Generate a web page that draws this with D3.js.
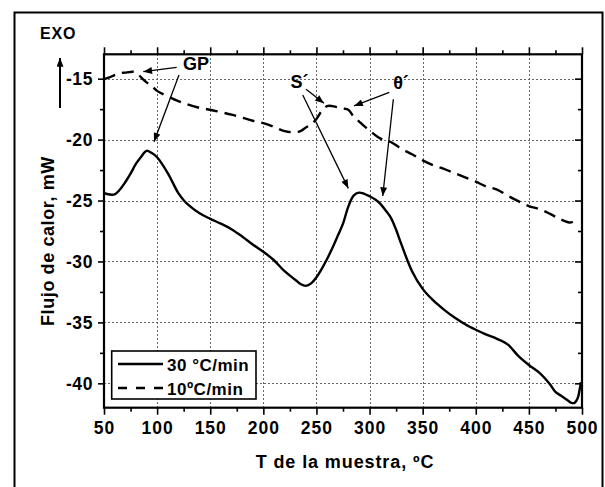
<!DOCTYPE html>
<html><head><meta charset="utf-8">
<script src="https://cdn.jsdelivr.net/npm/d3@7"></script>
<style>
html,body{margin:0;padding:0;background:#fff;}
text{font-family:"Liberation Sans",Arial,sans-serif;font-weight:bold;fill:#000;}
</style></head>
<body>
<script>
// ---- data ----
const tempSolid = [50,55,60,65,70,75,80,85,90,95,100,110,120,125,130,140,150,160,170,180,190,200,210,220,230,235,240,245,250,255,260,265,270,275,280,285,290,295,300,305,310,315,320,325,330,340,350,360,370,380,390,400,410,420,430,440,450,460,470,475,480,485,490,493,496,498,499];
const flowSolid = [-24.4,-24.5,-24.5,-24.1,-23.5,-22.8,-22.0,-21.4,-20.92,-21.1,-21.45,-22.75,-24.4,-24.97,-25.4,-26.05,-26.5,-26.9,-27.35,-27.95,-28.6,-29.2,-29.9,-30.8,-31.5,-31.85,-32.0,-31.8,-31.3,-30.6,-29.8,-28.9,-27.9,-26.9,-25.5,-24.6,-24.35,-24.45,-24.65,-24.9,-25.25,-25.8,-26.4,-27.4,-28.6,-30.8,-32.25,-33.2,-33.95,-34.6,-35.15,-35.6,-36.0,-36.35,-36.8,-37.75,-38.5,-39.15,-40.1,-40.7,-41.0,-41.3,-41.6,-41.6,-41.2,-40.4,-39.9];
const tempDash = [50,55,60,65,70,75,80,85,90,95,100,110,120,130,140,150,160,170,180,190,200,210,220,230,235,240,245,250,255,260,265,270,275,280,285,290,295,300,310,320,330,340,350,360,370,380,390,400,410,420,430,440,450,460,470,480,488,492,495];
const flowDash = [-15.05,-14.9,-14.7,-14.55,-14.5,-14.45,-14.45,-14.9,-15.3,-15.6,-16.0,-16.45,-16.85,-17.15,-17.4,-17.55,-17.75,-17.95,-18.2,-18.45,-18.65,-18.95,-19.3,-19.4,-19.3,-19.0,-18.75,-18.3,-17.65,-17.25,-17.25,-17.35,-17.45,-17.55,-18.1,-18.5,-18.9,-19.25,-19.9,-20.2,-20.75,-21.2,-21.7,-22.1,-22.4,-22.75,-23.1,-23.45,-23.85,-24.1,-24.6,-25.05,-25.45,-25.7,-26.1,-26.55,-26.8,-26.7,-26.3];
const seriesLabels = ["30 \u00B0C/min", "10\u00BAC/min"];
const xTicks = [50,100,150,200,250,300,350,400,450,500];
const yTicks = [-15,-20,-25,-30,-35,-40];
const xLabel = "T de la muestra, \u00BAC";
const yLabel = "Flujo de calor, mW";
// annotations
const annLabels = ["GP", "S\u00B4", "\u03B8\u00B4"];
const annLabelPos = [[136.6,-14.29],[234.1,-15.79],[329.6,-15.87]];
const annArrows = [
  [[118.4,-14.07,87.0,-14.43],[120.6,-14.70,97.1,-20.17]],
  [[240.2,-15.87,257.1,-17.02],[237.1,-16.34,280.0,-24.0]],
  [[318.6,-16.12,285.4,-17.24],[322.4,-16.69,312.4,-24.63]]
];

// ---- layout ----
const W=605,H=487;
const L=104,R=582,T=54.3,B=407.7;
const svg=d3.select("body").append("svg").attr("width",W).attr("height",H);
svg.append("rect").attr("width",W).attr("height",H).attr("fill","#fff");
svg.append("rect").attr("x",14.5).attr("y",12.5).attr("width",588).attr("height",490)
  .attr("fill","none").attr("stroke","#000").attr("stroke-width",2);

const x=d3.scaleLinear().domain([50,500]).range([L,R]);
const y=d3.scaleLinear().domain([-42,-13]).range([B,T]);

const defs=svg.append("defs");
defs.append("marker").attr("id","ah").attr("viewBox","0 0 10 8").attr("refX",10).attr("refY",4)
  .attr("markerWidth",10).attr("markerHeight",7).attr("markerUnits","userSpaceOnUse").attr("orient","auto")
  .append("path").attr("d","M0,0 L10,4 L0,8 Z").attr("fill","#000");

// grid (snapped to pixel centres so the dots stay crisp)
const snap=v=>Math.round(v)+0.5;
const grid=svg.append("g").attr("shape-rendering","crispEdges");
grid.selectAll(".gx").data(xTicks.filter(d=>d>50&&d<500)).enter().append("line")
  .attr("x1",d=>snap(x(d))).attr("x2",d=>snap(x(d))).attr("y1",T).attr("y2",B)
  .attr("stroke","#666").attr("stroke-width",1).attr("stroke-dasharray","2,2");
grid.selectAll(".gy").data(yTicks).enter().append("line")
  .attr("x1",L).attr("x2",R).attr("y1",d=>snap(y(d))).attr("y2",d=>snap(y(d)))
  .attr("stroke","#666").attr("stroke-width",1).attr("stroke-dasharray","2,2");

// axes
const xMinor=d3.range(75,500,50), yMinor=d3.range(-17.5,-42,-5);
const fmt=d=>String(d);
function styleAxis(g){g.select(".domain").remove();g.selectAll("line").attr("stroke","#000").attr("stroke-width",1.6);}
const ax=svg.append("g").attr("transform",`translate(0,${B})`)
  .call(d3.axisBottom(x).tickValues(xTicks).tickSize(7).tickPadding(7).tickFormat(fmt));
styleAxis(ax);
ax.selectAll("text").attr("font-size",17.5).attr("letter-spacing",1).attr("dy","0.72em");
svg.append("g").attr("transform",`translate(0,${B})`).call(d3.axisBottom(x).tickValues(xMinor).tickSize(4).tickFormat(""))
  .call(styleAxis);
svg.append("g").attr("transform",`translate(0,${T})`).call(d3.axisBottom(x).tickValues(xTicks).tickSize(-7).tickFormat("")).call(styleAxis);
svg.append("g").attr("transform",`translate(0,${T})`).call(d3.axisBottom(x).tickValues(xMinor).tickSize(-4).tickFormat("")).call(styleAxis);
const ay=svg.append("g").attr("transform",`translate(${L},0)`)
  .call(d3.axisLeft(y).tickValues(yTicks).tickSize(6).tickPadding(5).tickFormat(fmt));
styleAxis(ay);
ay.selectAll("text").attr("font-size",17.5).attr("letter-spacing",0.6).attr("dy","0.36em");
svg.append("g").attr("transform",`translate(${L},0)`).call(d3.axisLeft(y).tickValues(yMinor).tickSize(4).tickFormat("")).call(styleAxis);
svg.append("g").attr("transform",`translate(${R},0)`).call(d3.axisLeft(y).tickValues(yTicks).tickSize(7).tickFormat("")).call(styleAxis);
svg.append("g").attr("transform",`translate(${R},0)`).call(d3.axisLeft(y).tickValues(yMinor).tickSize(4).tickFormat("")).call(styleAxis);
svg.append("rect").attr("x",L).attr("y",T).attr("width",R-L).attr("height",B-T)
  .attr("fill","none").attr("stroke","#000").attr("stroke-width",2.2);

// curves
const line=d3.line().x(d=>x(d[0])).y(d=>y(d[1])).curve(d3.curveCatmullRom.alpha(0.5));
svg.append("path").datum(tempSolid.map((t,i)=>[t,flowSolid[i]])).attr("d",line)
  .attr("fill","none").attr("stroke","#000").attr("stroke-width",2.4).attr("stroke-linejoin","round");
svg.append("path").datum(tempDash.map((t,i)=>[t,flowDash[i]])).attr("d",line)
  .attr("fill","none").attr("stroke","#000").attr("stroke-width",2.4).attr("stroke-dasharray","12,7");

// annotations
annLabels.forEach((lab,i)=>{
  svg.append("text").attr("x",x(annLabelPos[i][0])).attr("y",y(annLabelPos[i][1]))
    .attr("text-anchor","middle").attr("font-size",18).text(lab);
  annArrows[i].forEach(a=>{
    svg.append("line").attr("x1",x(a[0])).attr("y1",y(a[1])).attr("x2",x(a[2])).attr("y2",y(a[3]))
      .attr("stroke","#000").attr("stroke-width",1.3).attr("marker-end","url(#ah)");
  });
});

// legend
const lg=svg.append("g");
lg.append("rect").attr("x",111.7).attr("y",351).attr("width",144.3).attr("height",48)
  .attr("fill","#fff").attr("stroke","#000").attr("stroke-width",1.6);
[0,1].forEach(i=>{
  const yy=364+i*24;
  lg.append("line").attr("x1",118).attr("x2",163).attr("y1",yy).attr("y2",yy)
    .attr("stroke","#000").attr("stroke-width",2.4).attr("stroke-dasharray",i?"9,9":null);
  lg.append("text").attr("x",167).attr("y",yy+6.5).attr("font-size",17).attr("letter-spacing",0.5).text(seriesLabels[i]);
});

// axis titles
svg.append("text").attr("x",(L+R)/2+2).attr("y",468).attr("text-anchor","middle")
  .attr("font-size",18).attr("letter-spacing",0.9).text(xLabel);
svg.append("text").attr("transform","translate(54,326) rotate(-90)").attr("text-anchor","start")
  .attr("font-size",18).attr("letter-spacing",0.6).text(yLabel);

// EXO marker
svg.append("text").attr("x",40).attr("y",38.5).attr("font-size",16).attr("letter-spacing",0.8).text("EXO");
svg.append("line").attr("x1",60).attr("y1",108).attr("x2",60).attr("y2",58)
  .attr("stroke","#000").attr("stroke-width",2).attr("marker-end","url(#ah)");
</script>
</body></html>
